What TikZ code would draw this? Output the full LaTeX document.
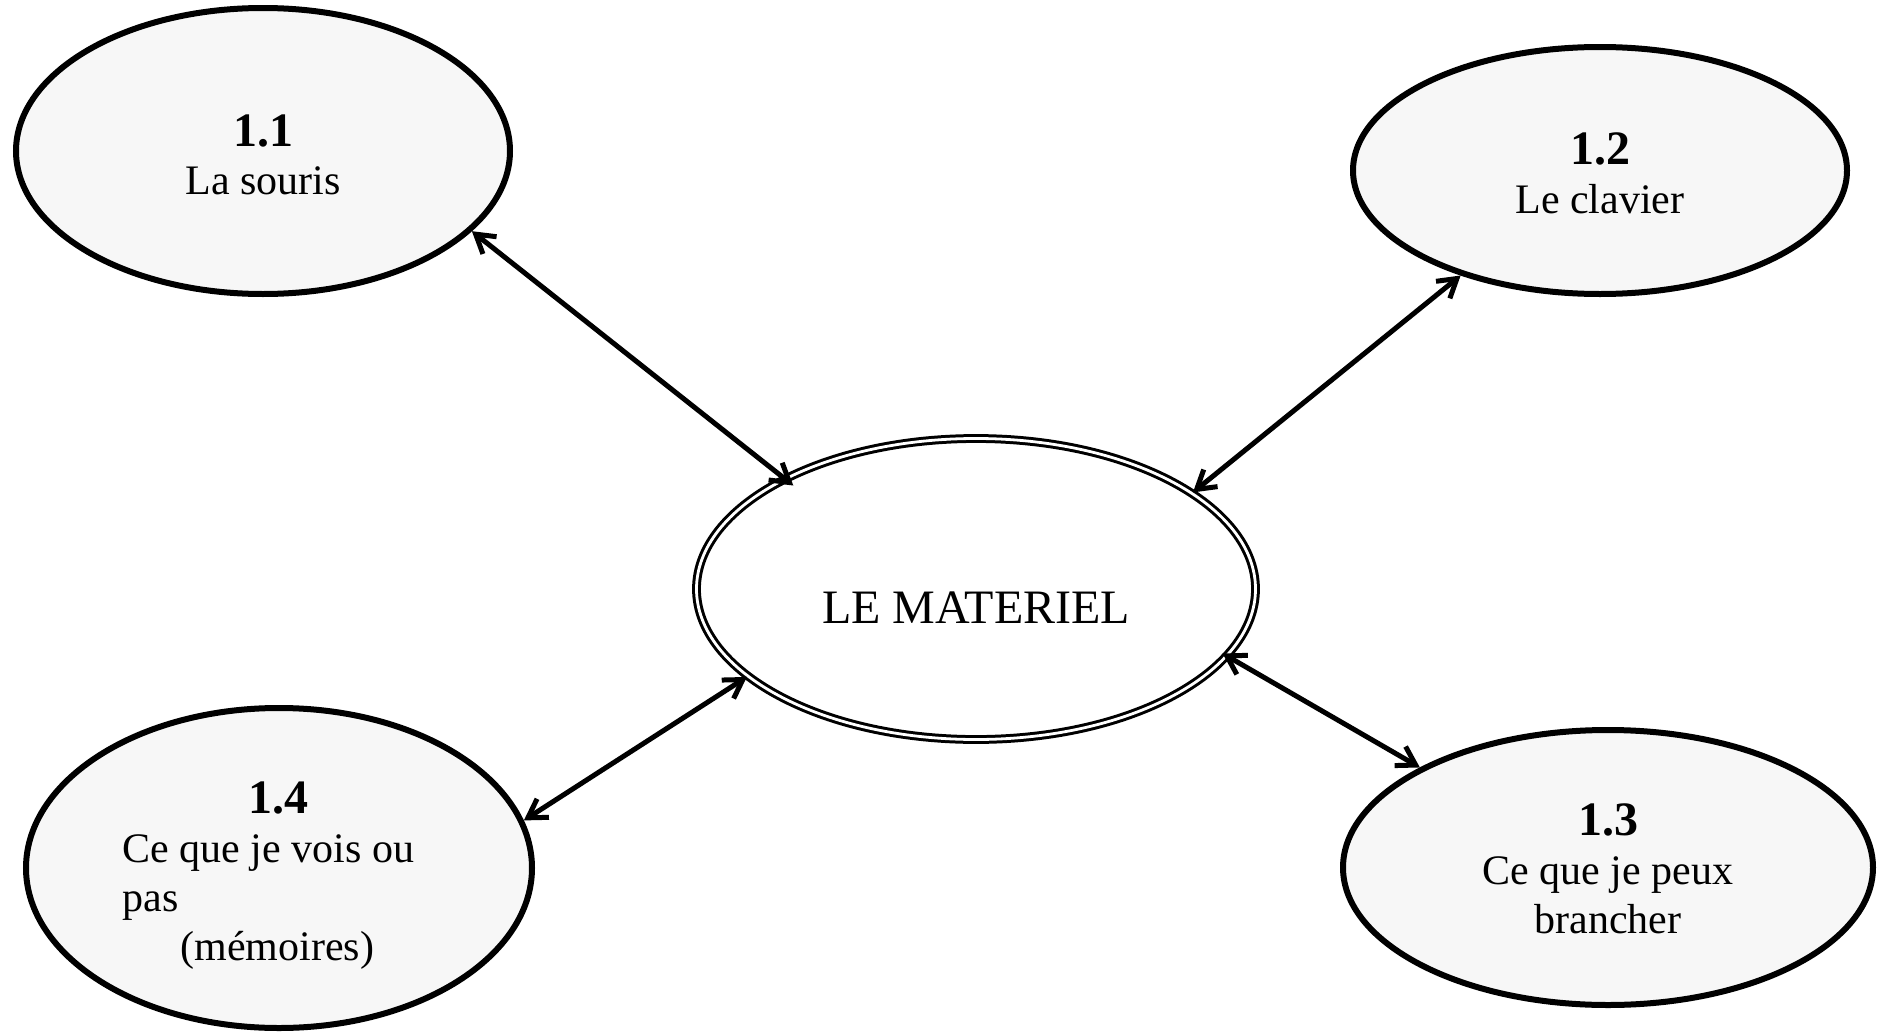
\documentclass[tikz,border=0pt]{standalone}
\usepackage{fontspec}
\setmainfont{Liberation Serif}
\usetikzlibrary{arrows.meta,shapes.geometric}
\definecolor{satfill}{HTML}{F7F7F7}
\newcommand\hdnum{\fontsize{24pt}{24.5pt}\selectfont\bfseries}
\begin{document}
\begin{tikzpicture}[x=0.5pt,y=-0.5pt,
  sat/.style={ellipse, draw=black, line width=3pt, fill=satfill, inner sep=0pt},
  hub/.style={ellipse, draw=black, line width=1.5pt, double=white, double distance=1.4pt, fill=white, inner sep=0pt},
  conn/.style={line width=2.5pt, arrows={Straight Barb[length=9pt,width=11pt]-Straight Barb[length=9pt,width=11pt]}},
  txt/.style={inner sep=0pt, font=\fontsize{21pt}{24.5pt}\selectfont},
  bigtxt/.style={inner sep=0pt, font=\fontsize{24pt}{28pt}\selectfont}]
\path[use as bounding box] (0,0) rectangle (1881,1033);

% ellipses
\node[sat, minimum width=247pt, minimum height=143pt] (e11) at (263,151) {};
\node[sat, minimum width=247pt, minimum height=123.5pt] (e12) at (1600,170.5) {};
\node[sat, minimum width=265pt, minimum height=137.5pt] (e13) at (1608,867.5) {};
\node[sat, minimum width=253pt, minimum height=160pt] (e14) at (279,868) {};
\node[hub, minimum width=279.5pt, minimum height=150.5pt] (ec) at (976,589) {};

% connectors
\draw[conn, shorten >=-6pt] (e11.-21.8) -- (ec.150);
\draw[conn] (e12.-143.7) -- (ec.24.8);
\draw[conn] (ec.201.25) -- (e14.11.6);
\draw[conn, shorten <=-3pt] (ec.-15.7) -- (e13.152.7);

% texts
\node[txt, anchor=base] (t11) at (263,146)
  {\begin{tabular}[t]{@{}c@{}}{\hdnum 1.1}\\ La souris\end{tabular}};
\node[txt, anchor=base] (t12) at (1600,164)
  {\begin{tabular}[t]{@{}c@{}}{\hdnum 1.2}\\ Le clavier\end{tabular}};
\node[txt, anchor=base] (t13) at (1608,835)
  {\begin{tabular}[t]{@{}c@{}}{\hdnum 1.3}\\ Ce que je peux\\ brancher\end{tabular}};
\node[txt, anchor=base west] (t14) at (122,813)
  {\begin{tabular}[t]{@{}l@{}}\multicolumn{1}{@{}c@{}}{\hspace*{10pt}{\hdnum 1.4}}\\ Ce que je vois ou\\ pas\\ \hspace*{29pt}(mémoires)\end{tabular}};
\node[bigtxt, anchor=base] (tc) at (976,623) {LE MATERIEL};
\end{tikzpicture}
\end{document}
